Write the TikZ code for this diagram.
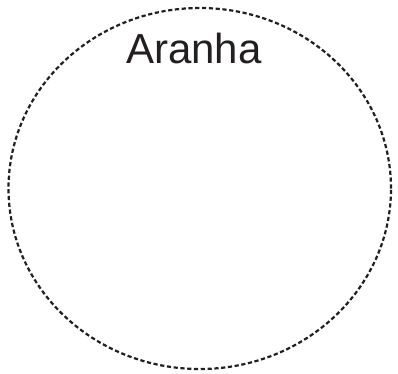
\documentclass[tikz,border=0pt]{standalone}
\usepackage{fontspec}
\setmainfont{Liberation Sans}
\usetikzlibrary{shapes.geometric}
\definecolor{ink}{HTML}{231F20}
\begin{document}
\begin{tikzpicture}[x=1pt,y=-1pt,
  outline/.style={draw=ink,line width=2.2pt,dash pattern=on 4.2pt off 2.6pt},
  label/.style={text=ink,font=\fontsize{42}{50}\selectfont,inner sep=0pt,anchor=base}]
\useasboundingbox (0,0) rectangle (398,373);
\node[outline,ellipse,minimum width=382.5pt,minimum height=361pt,inner sep=0pt] (spider) at (199.75,188.5) {};
\node[label] (title) at (194,63) {Aranha};
\end{tikzpicture}
\end{document}
